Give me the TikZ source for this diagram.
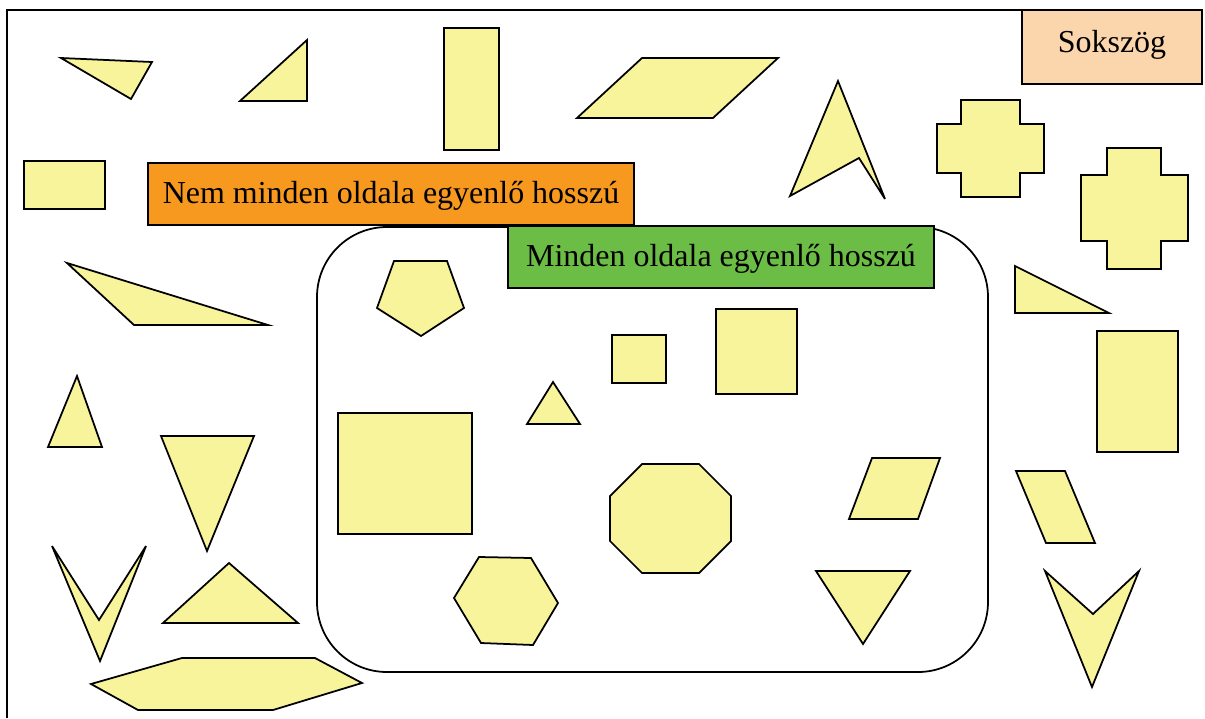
\documentclass[tikz,border=0pt]{standalone}
\usepackage{fontspec}
\setmainfont{Liberation Serif}
\definecolor{shapefill}{HTML}{F8F49C}
\definecolor{orangebox}{HTML}{F7991F}
\definecolor{greenbox}{HTML}{6BBD45}
\definecolor{peachbox}{HTML}{FBD5AC}
\begin{document}
\begin{tikzpicture}[x=0.02cm,y=-0.02cm,
  shp/.style={draw=black, fill=shapefill, line width=1pt, line join=miter},
  labelbox/.style={draw=black, line width=1pt, inner sep=0pt, font=\fontsize{18.2}{22}\selectfont, text height=12pt, text depth=1.7pt, align=center}]
\useasboundingbox (0,0) rectangle (1205,718);
% frame
\draw[line width=1.1pt] (7,718) -- (7,10) -- (1030,10);
% rounded region
\draw[line width=1pt, rounded corners=1.4cm] (317,227) rectangle (988,672);
% outside shapes
\draw[shp] (61,58) -- (152,62) -- (131,99) -- cycle;
\draw[shp] (240,101) -- (307,40) -- (307,101) -- cycle;
\draw[shp] (444,28) rectangle (499,150);
\draw[shp] (577,118) -- (642,58) -- (778,58) -- (713,118) -- cycle;
\draw[shp] (838,81) -- (885,199) -- (859,158) -- (790,196) -- cycle;
\draw[shp] (961,100) -- (1020,100) -- (1020,124) -- (1044,124) -- (1044,173) -- (1020,173) -- (1020,197) -- (961,197) -- (961,173) -- (937,173) -- (937,124) -- (961,124) -- cycle;
\draw[shp] (1107,148) -- (1161,148) -- (1161,175) -- (1188,175) -- (1188,241) -- (1161,241) -- (1161,269) -- (1107,269) -- (1107,241) -- (1081,241) -- (1081,175) -- (1107,175) -- cycle;
\draw[shp] (24,161) rectangle (105,209);
\draw[shp] (67,263) -- (268,325) -- (134,325) -- cycle;
\draw[shp] (77,376) -- (102,447) -- (48,447) -- cycle;
\draw[shp] (161,436) -- (254,436) -- (207,551) -- cycle;
\draw[shp] (52,546) -- (99,620) -- (146,546) -- (100,661) -- cycle;
\draw[shp] (163,623) -- (229,563) -- (298,623) -- cycle;
\draw[shp] (91,684) -- (182,658) -- (315,658) -- (362,683) -- (273,710) -- (138,710) -- cycle;
\draw[shp] (1015,266) -- (1109,313) -- (1015,313) -- cycle;
\draw[shp] (1097,331) rectangle (1178,452);
\draw[shp] (1016,471) -- (1065,471) -- (1095,543) -- (1046,543) -- cycle;
\draw[shp] (1045,571) -- (1093,614) -- (1139,571) -- (1092,687) -- cycle;
% inside shapes
\draw[shp] (394,261) -- (447,261) -- (464,308) -- (421,336) -- (377,308) -- cycle;
\draw[shp] (612,335) rectangle (666,383);
\draw[shp] (527,424) -- (553,382) -- (580,424) -- cycle;
\draw[shp] (338,413) rectangle (472,534);
\draw[shp] (716,309) rectangle (797,394);
\draw[shp] (642,464) -- (699,464) -- (731,496) -- (731,541) -- (699,573) -- (642,573) -- (610,541) -- (610,496) -- cycle;
\draw[shp] (454,598) -- (479,557) -- (531,558) -- (558,603) -- (533,645) -- (481,643) -- cycle;
\draw[shp] (872,458) -- (940,458) -- (918,519) -- (849,519) -- cycle;
\draw[shp] (816,571) -- (910,571) -- (863,644) -- cycle;
% label boxes
\node[labelbox, fill=orangebox, minimum width=9.72cm, minimum height=1.24cm] (nemminden) at (391,194) {Nem minden oldala egyenlő hosszú};
\node[labelbox, fill=greenbox, minimum width=8.52cm, minimum height=1.24cm] (minden) at (721,257) {Minden oldala egyenlő hosszú};
\node[labelbox, fill=peachbox, minimum width=3.6cm, minimum height=1.48cm, text depth=6.3pt] (sokszog) at (1112,47) {Sokszög};
\end{tikzpicture}
\end{document}
